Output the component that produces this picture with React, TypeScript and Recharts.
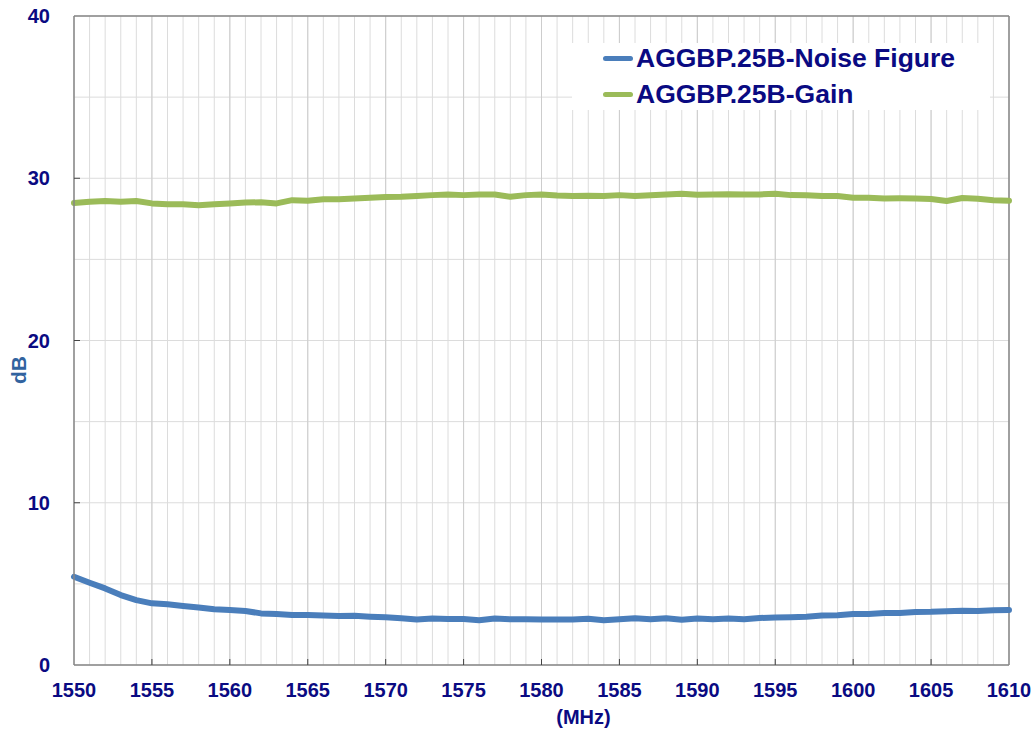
import { CartesianGrid, Legend, Line, LineChart, ReferenceLine, XAxis, YAxis } from 'recharts';

const freq = [
    1550, 1551, 1552, 1553, 1554, 1555, 1556, 1557, 1558, 1559,
    1560, 1561, 1562, 1563, 1564, 1565, 1566, 1567, 1568, 1569,
    1570, 1571, 1572, 1573, 1574, 1575, 1576, 1577, 1578, 1579,
    1580, 1581, 1582, 1583, 1584, 1585, 1586, 1587, 1588, 1589,
    1590, 1591, 1592, 1593, 1594, 1595, 1596, 1597, 1598, 1599,
    1600, 1601, 1602, 1603, 1604, 1605, 1606, 1607, 1608, 1609,
    1610,
];

const noiseFigure = [
    5.44, 5.07, 4.72, 4.31, 4.0, 3.8, 3.74, 3.64, 3.55, 3.43,
    3.39, 3.33, 3.18, 3.14, 3.08, 3.08, 3.05, 3.02, 3.04, 2.98,
    2.94, 2.88, 2.8, 2.86, 2.83, 2.83, 2.76, 2.86, 2.82, 2.82,
    2.8, 2.8, 2.8, 2.85, 2.76, 2.82, 2.88, 2.82, 2.88, 2.79,
    2.86, 2.82, 2.86, 2.82, 2.9, 2.92, 2.95, 2.98, 3.05, 3.06,
    3.14, 3.15, 3.2, 3.21, 3.27, 3.28, 3.32, 3.34, 3.33, 3.38,
    3.39,
];

const gain = [
    28.47, 28.55, 28.6, 28.55, 28.6, 28.45, 28.4, 28.4, 28.34, 28.4,
    28.45, 28.5, 28.52, 28.45, 28.65, 28.62, 28.7, 28.7, 28.75, 28.8,
    28.85, 28.86, 28.9, 28.96, 29.0, 28.96, 29.0, 29.0, 28.86, 28.96,
    29.0, 28.93, 28.9, 28.92, 28.9, 28.96, 28.9, 28.95, 29.0, 29.05,
    28.98, 29.0, 29.02, 29.0, 29.0, 29.05, 28.96, 28.95, 28.9, 28.9,
    28.8, 28.8, 28.75, 28.76, 28.75, 28.72, 28.6, 28.78, 28.74, 28.65,
    28.62,
];

const seriesNames = ['AGGBP.25B-Noise Figure', 'AGGBP.25B-Gain'];
const yTicks = [0, 5, 10, 15, 20, 25, 30, 35, 40];
const majorX = [1555, 1560, 1565, 1570, 1575, 1580, 1585, 1590, 1595, 1600, 1605];

const NAVY = '#0a0a82';
const AXIS = '#868686';
const FONT = '"Liberation Sans", Arial, sans-serif';

const data = freq.map((f, i) => ({ f, nf: noiseFigure[i], gain: gain[i] }));

function XTick({ x, y, payload }: any) {
    const v = payload.value;
    if (v % 5 !== 0) return null;
    return (
        <g>
            {v !== 1550 && v !== 1610 && <line x1={x} x2={x} y1={y} y2={y - 6} stroke="#444" />}
            <text x={x} y={y + 32} textAnchor="middle" fill={NAVY} fontSize={20} fontWeight="bold" fontFamily={FONT}>
                {v}
            </text>
        </g>
    );
}

function YTick({ x, y, payload }: any) {
    const v = payload.value;
    if (v % 10 !== 0) return null;
    return (
        <g>
            {v !== 0 && v !== 40 && <line x1={x + 24} x2={x + 30} y1={y} y2={y} stroke="#444" />}
            <text x={x} y={y} dy="0.35em" textAnchor="end" fill={NAVY} fontSize={20} fontWeight="bold" fontFamily={FONT}>
                {v}
            </text>
        </g>
    );
}

function LegendBox({ payload }: any) {
    const items = [...(payload || [])].sort(
        (a: any, b: any) => seriesNames.indexOf(a.value) - seriesNames.indexOf(b.value),
    );
    return (
        <div style={{ position: 'relative', width: 418, height: 67, background: '#fff' }}>
            {items.map((p: any, i: number) => (
                <div
                    key={p.value}
                    style={{ position: 'absolute', left: 31, top: i * 36, height: 30, display: 'flex', alignItems: 'center' }}
                >
                    <span style={{ display: 'inline-block', width: 30, height: 5, borderRadius: 3, background: p.color }} />
                    <span style={{ marginLeft: 3, color: NAVY, fontSize: 26.5, fontWeight: 'bold', fontFamily: FONT, whiteSpace: 'nowrap' }}>
                        {p.value}
                    </span>
                </div>
            ))}
        </div>
    );
}

export default function App() {
    return (
        <div style={{ position: 'absolute', left: 0, top: 0, width: 1033, height: 731, background: '#fff' }}>
            <LineChart width={1033} height={731} data={data} margin={{ top: 16, right: 24, bottom: 0, left: 0 }}>
                <CartesianGrid stroke="#dcdcdc" strokeWidth={1} />
                {majorX.map((v) => (
                    <ReferenceLine key={v} x={v} stroke="#cdcdcd" strokeWidth={1} />
                ))}
                <ReferenceLine y={40} stroke={AXIS} strokeWidth={1.5} />
                <ReferenceLine x={1610} stroke={AXIS} strokeWidth={1.5} />
                <XAxis
                    dataKey="f"
                    type="number"
                    domain={[1550, 1610]}
                    ticks={freq}
                    interval={0}
                    height={66}
                    tickSize={0}
                    tickMargin={0}
                    tickLine={false}
                    axisLine={{ stroke: AXIS, strokeWidth: 1.5 }}
                    tick={<XTick />}
                    label={{
                        value: '(MHz)',
                        position: 'insideBottom',
                        offset: 7,
                        dx: 42,
                        fill: NAVY,
                        fontSize: 20,
                        fontWeight: 'bold',
                        fontFamily: FONT,
                    }}
                />
                <YAxis
                    type="number"
                    domain={[0, 40]}
                    ticks={yTicks}
                    interval={0}
                    width={74}
                    tickSize={0}
                    tickMargin={24}
                    tickLine={false}
                    axisLine={{ stroke: AXIS, strokeWidth: 1.5 }}
                    tick={<YTick />}
                    label={{
                        content: () => (
                            <text
                                x={18}
                                y={370}
                                transform="rotate(-90 18 370)"
                                textAnchor="middle"
                                dominantBaseline="central"
                                fill="#31639f"
                                fontSize={21}
                                fontWeight="bold"
                                fontFamily={FONT}
                            >
                                dB
                            </text>
                        ),
                    }}
                />
                <Legend
                    layout="horizontal"
                    verticalAlign="middle"
                    align="center"
                    content={<LegendBox />}
                    wrapperStyle={{ left: 572, top: 43, width: 418, height: 67 }}
                />
                <Line
                    type="linear"
                    dataKey="nf"
                    name={seriesNames[0]}
                    stroke="#4a7ebb"
                    strokeWidth={6}
                    strokeLinejoin="round"
                    strokeLinecap="round"
                    dot={false}
                    isAnimationActive={false}
                />
                <Line
                    type="linear"
                    dataKey="gain"
                    name={seriesNames[1]}
                    stroke="#9bbb59"
                    strokeWidth={6}
                    strokeLinejoin="round"
                    strokeLinecap="round"
                    dot={false}
                    isAnimationActive={false}
                />
            </LineChart>
        </div>
    );
}
